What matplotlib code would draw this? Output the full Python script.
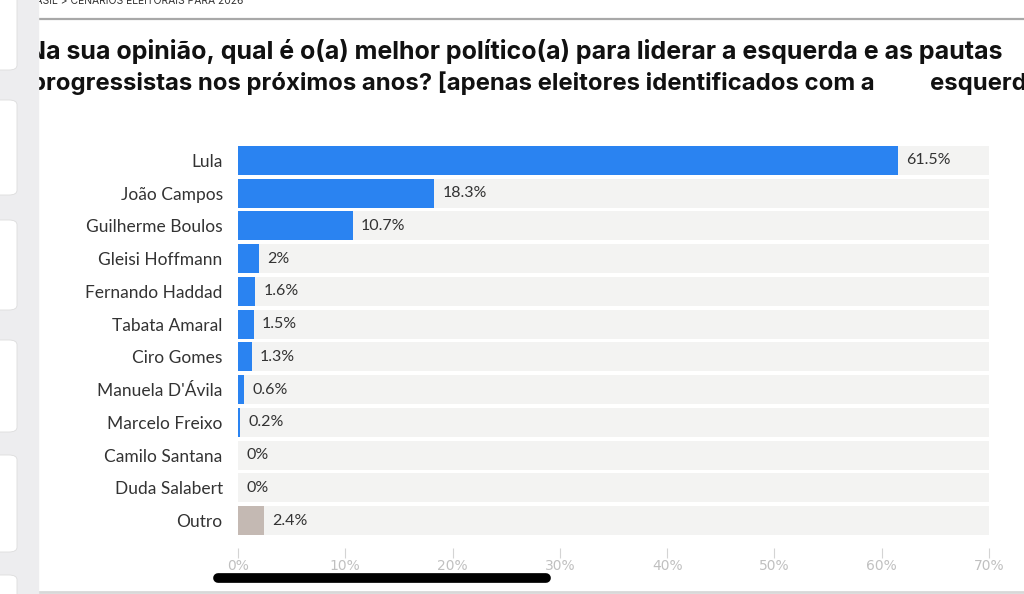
import matplotlib
matplotlib.use("Agg")
import matplotlib.pyplot as plt
from matplotlib.patches import Rectangle, FancyBboxPatch
from matplotlib.lines import Line2D

categories = ["Lula", "João Campos", "Guilherme Boulos", "Gleisi Hoffmann",
              "Fernando Haddad", "Tabata Amaral", "Ciro Gomes", "Manuela D'Ávila",
              "Marcelo Freixo", "Camilo Santana", "Duda Salabert", "Outro"]
values = [61.5, 18.3, 10.7, 2.0, 1.6, 1.5, 1.3, 0.6, 0.2, 0.0, 0.0, 2.4]
value_labels = ["61.5%", "18.3%", "10.7%", "2%", "1.6%", "1.5%", "1.3%",
                "0.6%", "0.2%", "0%", "0%", "2.4%"]
xticks = [0, 10, 20, 30, 40, 50, 60, 70]
xtick_labels = ["0%", "10%", "20%", "30%", "40%", "50%", "60%", "70%"]
title_line1 = "Na sua opinião, qual é o(a) melhor político(a) para liderar a esquerda e as pautas"
title_line2a = "progressistas nos próximos anos? [apenas eleitores identificados com a"
title_line2b = "esquerda]"
breadcrumb = "BRASIL > CENÁRIOS ELEITORAIS PARA 2026"

BLUE = "#2a83f1"
OTHER = "#c4b9b3"
TRACK = "#f3f3f2"

W, H = 1024, 594
fig = plt.figure(figsize=(W / 100, H / 100), dpi=100)
fig.patch.set_facecolor("white")

ax = fig.add_axes([238 / W, 1 - 537 / H, (989 - 238) / W, (537 - 144) / H])
n = len(categories)
ypos = list(range(n))
colors = [BLUE] * (n - 1) + [OTHER]
ax.barh(ypos, [70] * n, height=0.88, color=TRACK, zorder=1)
ax.barh(ypos, values, height=0.88, color=colors, zorder=2)
for y, v, lab in zip(ypos, values, value_labels):
    ax.text(v + 0.75, y, lab, va="center", ha="left", fontsize=11.5,
            family="Lato", color="#333333", zorder=3)
ax.set_xlim(0, 70)
ax.set_ylim(n - 0.5, -0.5)
ax.set_yticks(ypos)
ax.set_yticklabels(categories, family="Lato", fontsize=12.5)
ax.tick_params(axis="y", length=0, pad=11, labelcolor="#333333")
ax.set_xticks(xticks)
ax.set_xticklabels(xtick_labels, family="Lato", fontsize=8.5)
ax.tick_params(axis="x", length=7, width=0.8, color="#d4d4d4", pad=1,
               labelcolor="#c0c0c0")
for s in ax.spines.values():
    s.set_visible(False)
ax.spines["bottom"].set_position(("outward", 8))
ax.set_facecolor("none")

# Title and header
fig.text(27 / W, 1 - 52 / H, title_line1, fontsize=18, fontweight="bold",
         family="Inter", color="#111111", va="center", ha="left")
fig.text(31 / W, 1 - 83 / H, title_line2a, fontsize=17.2, fontweight="bold",
         family="Inter", color="#111111", va="center", ha="left")
fig.text(930 / W, 1 - 83 / H, title_line2b, fontsize=17.2, fontweight="bold",
         family="Inter", color="#111111", va="center", ha="left")
fig.text(22 / W, 1 - 1 / H, breadcrumb, fontsize=7.5, family="Inter",
         color="#333333", va="center", ha="left")
fig.add_artist(Line2D([38 / W, 1], [1 - 19 / H, 1 - 19 / H],
                      color="#a8a8a8", lw=1.6, transform=fig.transFigure))
fig.add_artist(Line2D([0, 1], [1 - 592 / H, 1 - 592 / H],
                      color="#d8d8d8", lw=2, transform=fig.transFigure))

# Left sidebar with thumbnail cards
fig.add_artist(Rectangle((0, 0), 38 / W, 1, transform=fig.transFigure,
                         color="#ededef", zorder=10))
for top, bot in [(-10, 70), (100, 195), (220, 310), (340, 432), (455, 552), (575, 610)]:
    fig.add_artist(FancyBboxPatch((-10 / W, 1 - bot / H), 27 / W, (bot - top) / H,
                                  boxstyle="round,pad=0,rounding_size=0.008",
                                  transform=fig.transFigure, facecolor="white",
                                  edgecolor="#dddddd", lw=0.6, zorder=11))

# Home indicator
fig.add_artist(Line2D([218 / W, 546 / W], [1 - 578 / H, 1 - 578 / H],
                      color="black", lw=7, solid_capstyle="round",
                      transform=fig.transFigure, zorder=12))

fig.savefig("out.png", dpi=100)
